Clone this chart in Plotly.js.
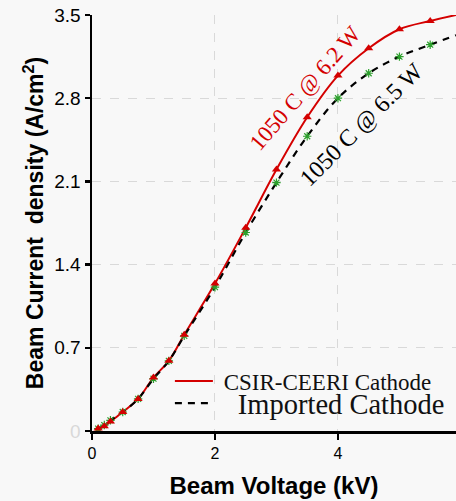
<!DOCTYPE html>
<html>
<head>
<meta charset="utf-8">
<script src="https://cdn.plot.ly/plotly-3.0.1.min.js"></script>
<style>html,body{margin:0;padding:0;background:#f8f8f8;}</style>
</head>
<body>
<div id="chart" style="width:456px;height:501px;"></div>
<script>
// Measured points
const voltage = [0.1, 0.2, 0.3, 0.5, 0.75, 1.0, 1.25, 1.5, 2.0, 2.5, 3.0, 3.5, 4.0, 4.5, 5.0, 5.5];
const csirDensity = [0.02, 0.04, 0.08, 0.16, 0.27, 0.45, 0.59, 0.81, 1.24, 1.71, 2.20, 2.64, 2.99, 3.22, 3.38, 3.45];
const importedDensity = [0.02, 0.05, 0.09, 0.16, 0.27, 0.44, 0.59, 0.80, 1.21, 1.67, 2.09, 2.48, 2.80, 3.01, 3.15, 3.25];
// Fitted curves continue to the right edge
const curveEndVoltage = 5.92;
const csirCurveEnd = 3.50;
const importedCurveEnd = 3.33;

const yTicks = [0, 0.7, 1.4, 2.1, 2.8, 3.5];
const yTickText = ['<span style="color:#d8d8d8">0</span>', '0.7', '1.4', '2.1', '2.8', '3.5'];
const xTicks = [0, 2, 4];

const csirName = 'CSIR-CEERI Cathode';
const importedName = 'Imported Cathode';
const csirLabel = '1050 C @ 6.2 W';
const importedLabel = '1050 C @ 6.5 W';

const red = '#d40000';
const green = '#6fa34a';
const serif = 'Liberation Serif, DejaVu Serif, serif';
const sans = 'Liberation Sans, Arial, sans-serif';

const traces = [
  {
    x: voltage.concat([curveEndVoltage]), y: csirDensity.concat([csirCurveEnd]),
    mode: 'lines', line: {color: red, width: 2, shape: 'spline', smoothing: 1},
    name: '&nbsp;' + csirName, showlegend: true, legend: 'legend'
  },
  {
    x: voltage.concat([curveEndVoltage]), y: importedDensity.concat([importedCurveEnd]),
    mode: 'lines', line: {color: '#000', width: 2.2, dash: '7px,6px', shape: 'spline', smoothing: 1},
    name: '&nbsp;&nbsp;&#8201;' + importedName, showlegend: true, legend: 'legend2'
  },
  {
    x: voltage, y: importedDensity, mode: 'markers',
    marker: {symbol: 'asterisk-open', size: 7, line: {color: green, width: 1.2}},
    showlegend: false, hoverinfo: 'skip'
  },
  {
    x: voltage, y: csirDensity, mode: 'markers',
    marker: {symbol: 'triangle-up', size: 8, color: red},
    showlegend: false, hoverinfo: 'skip'
  }
];

const layout = {
  width: 456, height: 501,
  margin: {l: 92, r: 0, t: 15, b: 70},
  paper_bgcolor: '#f8f8f8', plot_bgcolor: '#f8f8f8',
  showlegend: true,
  legend: {
    x: 0.214, y: 0.12, xanchor: 'left', yanchor: 'middle', itemwidth: 38,
    bgcolor: 'rgba(0,0,0,0)',
    font: {family: serif, size: 23, color: '#111'}
  },
  legend2: {
    x: 0.214, y: 0.066, xanchor: 'left', yanchor: 'middle', itemwidth: 38,
    bgcolor: 'rgba(0,0,0,0)',
    font: {family: serif, size: 28.5, color: '#111'}
  },
  xaxis: {
    range: [0, curveEndVoltage], tickvals: xTicks, ticktext: xTicks.map(String),
    showline: true, linecolor: '#000', linewidth: 2.5,
    ticks: 'outside', ticklen: 6, tickwidth: 2.5, tickcolor: '#000',
    showgrid: true, gridcolor: '#d9d9d9', griddash: 'dash', gridwidth: 1,
    zeroline: false,
    tickfont: {family: sans, size: 16, color: '#000'},
    title: {text: '<b>Beam Voltage (kV)</b>', standoff: 17,
      font: {family: sans, size: 24, color: '#000'}}
  },
  yaxis: {
    range: [0, 3.5], tickvals: yTicks, ticktext: yTickText,
    showline: true, linecolor: '#000', linewidth: 2.5,
    ticks: 'outside', ticklen: 5, tickwidth: 2.5, tickcolor: '#000',
    showgrid: true, gridcolor: '#d9d9d9', griddash: 'dash', gridwidth: 1,
    zeroline: false,
    tickfont: {family: sans, size: 19, color: '#000'},
    title: {text: '<b>Beam Current&nbsp; density (A/cm<sup>2</sup>)</b>', standoff: 4,
      font: {family: sans, size: 23, color: '#000'}}
  },
  annotations: [
    {x: 3.46, y: 2.885, xref: 'x', yref: 'y', text: csirLabel, showarrow: false,
     textangle: -49, font: {family: serif, size: 23, color: red}},
    {x: 4.39, y: 2.58, xref: 'x', yref: 'y', text: importedLabel, showarrow: false,
     textangle: -45, font: {family: serif, size: 24, color: '#000'}}
  ]
};

Plotly.newPlot('chart', traces, layout, {displayModeBar: false, staticPlot: true});
</script>
</body>
</html>
